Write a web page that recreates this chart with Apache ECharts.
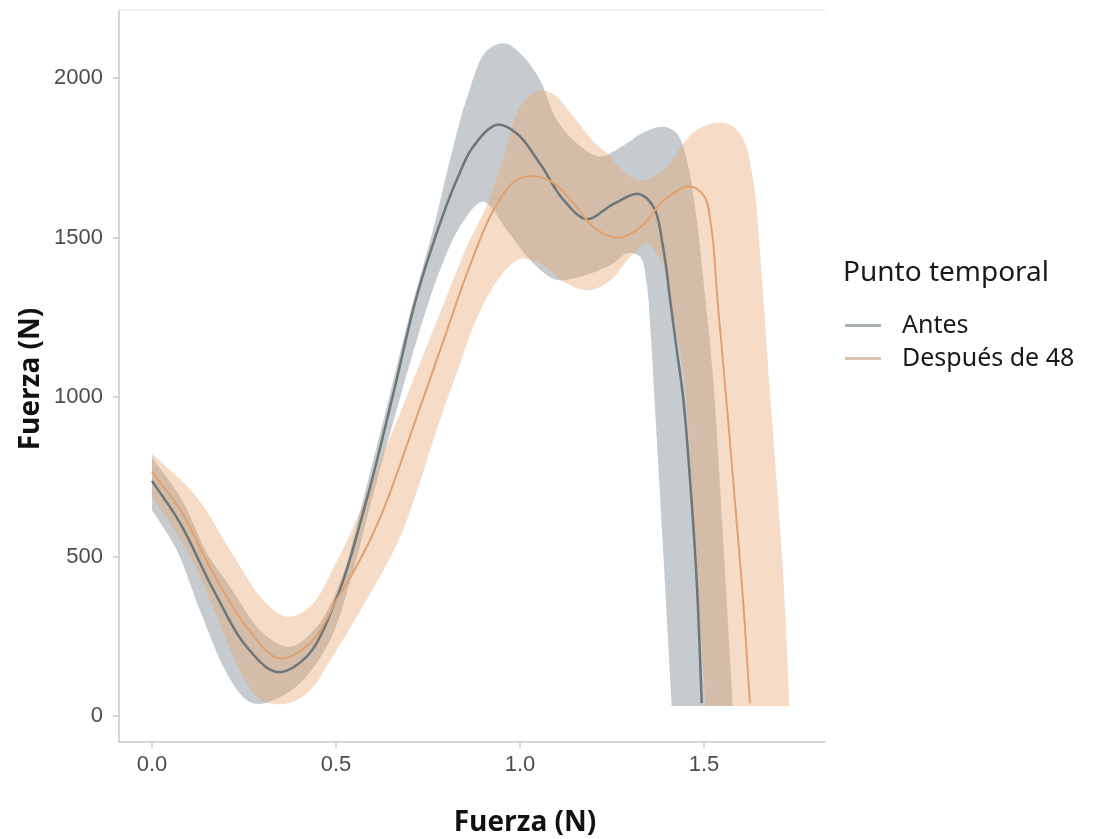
<!DOCTYPE html>
<html>
<head>
<meta charset="utf-8">
<script src="https://cdn.jsdelivr.net/npm/echarts@6/dist/echarts.min.js"></script>
<style>html,body{margin:0;padding:0;background:#fff}#c{width:1113px;height:839px}</style>
</head>
<body>
<div id="c"></div>
<script>
// ---- Data ----
const xTicks = [0.0, 0.5, 1.0, 1.5];
const yTicks = [0, 500, 1000, 1500, 2000];
const seriesNames = ['Antes', 'Después de 48'];

// Mean curve "Antes"
const antesX = [0.00, 0.076, 0.167, 0.257, 0.34, 0.42, 0.50, 0.583, 0.656, 0.719, 0.783, 0.828, 0.873, 0.937, 0.991, 1.054, 1.118, 1.181, 1.254, 1.322, 1.362, 1.39, 1.408, 1.426, 1.444, 1.462, 1.48, 1.494];
const antesY = [737, 605, 395, 217, 138, 186, 364, 677, 1012, 1314, 1545, 1680, 1785, 1853, 1826, 1732, 1618, 1558, 1605, 1636, 1597, 1461, 1304, 1147, 991, 740, 426, 40];
// Ribbon "Antes" upper / lower edges
const antesUpperX = [0.00, 0.08, 0.15, 0.212, 0.302, 0.375, 0.448, 0.52, 0.556, 0.629, 0.701, 0.765, 0.81, 0.855, 0.909, 0.96, 1.009, 1.054, 1.10, 1.16, 1.217, 1.29, 1.33, 1.39, 1.426, 1.453, 1.475, 1.50, 1.525, 1.55, 1.578];
const antesUpperY = [810, 680, 510, 405, 259, 217, 280, 447, 600, 928, 1262, 1530, 1745, 1935, 2085, 2108, 2067, 1994, 1868, 1790, 1754, 1795, 1826, 1847, 1826, 1743, 1600, 1350, 1053, 590, 31];
const antesLowerX = [0.00, 0.067, 0.13, 0.203, 0.257, 0.293, 0.35, 0.411, 0.484, 0.538, 0.60, 0.66, 0.72, 0.78, 0.84, 0.90, 0.964, 1.036, 1.10, 1.163, 1.217, 1.254, 1.29, 1.326, 1.344, 1.355, 1.365, 1.385, 1.412];
const antesLowerY = [646, 520, 332, 134, 50, 38, 60, 113, 238, 420, 690, 940, 1180, 1390, 1540, 1612, 1523, 1419, 1367, 1377, 1398, 1419, 1450, 1440, 1356, 1200, 1000, 600, 31];

// Mean curve "Después de 48"
const despuesX = [0.00, 0.08, 0.166, 0.257, 0.345, 0.43, 0.51, 0.57, 0.63, 0.72, 0.79, 0.86, 0.93, 0.99, 1.04, 1.09, 1.145, 1.208, 1.27, 1.33, 1.39, 1.46, 1.50, 1.52, 1.537, 1.56, 1.585, 1.605, 1.625];
const despuesY = [766, 640, 448, 280, 181, 229, 380, 500, 650, 940, 1170, 1400, 1590, 1680, 1692, 1672, 1607, 1525, 1500, 1535, 1615, 1660, 1630, 1530, 1300, 1000, 660, 380, 40];
// Ribbon "Después de 48" upper / lower edges
const despuesUpperX = [0.00, 0.121, 0.212, 0.302, 0.366, 0.43, 0.50, 0.55, 0.61, 0.674, 0.746, 0.80, 0.855, 0.909, 0.96, 1.00, 1.05, 1.09, 1.145, 1.20, 1.236, 1.30, 1.344, 1.399, 1.444, 1.48, 1.525, 1.571, 1.607, 1.635, 1.655, 1.675, 1.697, 1.716, 1.732];
const despuesUpperY = [823, 687, 520, 364, 311, 343, 480, 600, 771, 949, 1158, 1314, 1471, 1600, 1770, 1910, 1960, 1950, 1879, 1800, 1764, 1690, 1680, 1722, 1795, 1837, 1858, 1853, 1806, 1670, 1408, 1080, 740, 426, 31];
const despuesLowerX = [0.00, 0.10, 0.17, 0.24, 0.29, 0.33, 0.375, 0.43, 0.49, 0.583, 0.674, 0.73, 0.78, 0.83, 0.88, 0.946, 1.00, 1.054, 1.127, 1.19, 1.25, 1.30, 1.344, 1.39, 1.417, 1.447, 1.475, 1.505];
const despuesLowerY = [690, 510, 330, 140, 55, 38, 41, 81, 185, 364, 560, 740, 920, 1080, 1240, 1377, 1432, 1419, 1356, 1335, 1370, 1440, 1480, 1408, 1252, 1050, 530, 31];

// ---- Chart ----
const X_MIN = -0.0897, X_MAX = 1.8288, Y_MIN = -81.5, Y_MAX = 2213;
const AXIS_COLOR = '#c9c9c9';
const TICK_FONT = '"Liberation Sans", Arial, sans-serif';
const TEXT_FONT = '"Noto Sans", "Open Sans", sans-serif';
const TITLE_FONT = 'bold 28px "Open Sans", "Noto Sans", sans-serif';

// centripetal Catmull-Rom through pixel points (rendering only)
function spline(pts, steps) {
  const n = pts.length;
  if (n < 3) return pts.slice();
  const out = [];
  const d = (a, b) => Math.max(Math.pow(Math.hypot(b[0] - a[0], b[1] - a[1]), 0.5), 1e-4);
  for (let i = 0; i < n - 1; i++) {
    const p1 = pts[i], p2 = pts[i + 1];
    const p0 = i > 0 ? pts[i - 1] : [2 * p1[0] - p2[0], 2 * p1[1] - p2[1]];
    const p3 = i < n - 2 ? pts[i + 2] : [2 * p2[0] - p1[0], 2 * p2[1] - p1[1]];
    const t0 = 0, t1 = t0 + d(p0, p1), t2 = t1 + d(p1, p2), t3 = t2 + d(p2, p3);
    for (let s = 0; s < steps; s++) {
      const t = t1 + (t2 - t1) * s / steps;
      const L = (a, b, ta, tb) => [
        (tb - t) / (tb - ta) * a[0] + (t - ta) / (tb - ta) * b[0],
        (tb - t) / (tb - ta) * a[1] + (t - ta) / (tb - ta) * b[1]
      ];
      const A1 = L(p0, p1, t0, t1), A2 = L(p1, p2, t1, t2), A3 = L(p2, p3, t2, t3);
      const B1 = L(A1, A2, t0, t2), B2 = L(A2, A3, t1, t3);
      out.push(L(B1, B2, t1, t2));
    }
  }
  out.push(pts[n - 1]);
  return out;
}

function ribbon(name, ux, uy, lx, ly, fill) {
  return {
    id: name + '-ribbon',
    type: 'custom',
    silent: true,
    z: 1,
    data: [[ux[0], uy[0]]],
    renderItem: function (params, api) {
      const up = ux.map((x, i) => api.coord([x, uy[i]]));
      const lo = lx.map((x, i) => api.coord([x, ly[i]]));
      const pts = spline(up, 16).concat(spline(lo, 16).reverse());
      return { type: 'polygon', shape: { points: pts }, style: { fill: fill } };
    }
  };
}

function meanLine(name, xs, ys, color, width) {
  return {
    name: name,
    type: 'custom',
    z: 3,
    silent: true,
    itemStyle: { color: color },
    data: [[xs[0], ys[0]]],
    renderItem: function (params, api) {
      const pts = xs.map((x, i) => api.coord([x, ys[i]]));
      return { type: 'polyline', shape: { points: spline(pts, 16) },
        style: { stroke: color, lineWidth: width, fill: null, lineJoin: 'round' } };
    }
  };
}

const chart = echarts.init(document.getElementById('c'), null, { renderer: 'canvas' });
chart.setOption({
  animation: false,
  backgroundColor: '#ffffff',
  grid: { left: 119, right: 288, top: 10, bottom: 97, containLabel: false },
  xAxis: [{
    type: 'value', min: X_MIN, max: X_MAX,
    axisLine: { show: true, onZero: false, lineStyle: { color: AXIS_COLOR, width: 1.5 } },
    axisTick: { show: true, length: 6, customValues: xTicks, lineStyle: { color: AXIS_COLOR, width: 1.5 } },
    axisLabel: { customValues: xTicks, margin: 12, fontSize: 22, fontFamily: TICK_FONT, color: '#4d4d4d',
      formatter: v => Number(v).toFixed(1) },
    splitLine: { show: false }
  }, {
    type: 'value', position: 'top', min: X_MIN, max: X_MAX,
    axisLine: { show: true, onZero: false, lineStyle: { color: '#ededed', width: 1.5 } },
    axisTick: { show: false }, axisLabel: { show: false }, splitLine: { show: false }
  }],
  yAxis: {
    type: 'value', min: Y_MIN, max: Y_MAX,
    axisLine: { show: true, onZero: false, lineStyle: { color: AXIS_COLOR, width: 1.5 } },
    axisTick: { show: true, length: 6, customValues: yTicks, lineStyle: { color: AXIS_COLOR, width: 1.5 } },
    axisLabel: { customValues: yTicks, margin: 16, fontSize: 22, fontFamily: TICK_FONT, color: '#4d4d4d',
      formatter: v => String(Math.round(v)) },
    splitLine: { show: false }
  },
  legend: {
    orient: 'vertical', left: 845, top: 313, padding: 0,
    icon: 'rect', itemWidth: 36, itemHeight: 3, itemGap: 8,
    textStyle: { fontSize: 25, fontFamily: TEXT_FONT, color: '#1a1a1a', lineHeight: 24, padding: [0, 0, 0, 16] },
    data: [
      { name: seriesNames[0], itemStyle: { color: '#a9b1b4' } },
      { name: seriesNames[1], itemStyle: { color: '#dcc1ad' } }
    ],
    selectedMode: false
  },
  graphic: [
    { type: 'text', x: 525, y: 823, style: { text: 'Fuerza (N)', font: TITLE_FONT, fill: '#111', textAlign: 'center', textVerticalAlign: 'middle' } },
    { type: 'text', x: 31, y: 379, rotation: Math.PI / 2, style: { text: 'Fuerza (N)', font: TITLE_FONT, fill: '#111', textAlign: 'center', textVerticalAlign: 'middle' } },
    { type: 'text', x: 843, y: 273, style: { text: 'Punto temporal', font: 'normal 28px "Noto Sans", "Open Sans", sans-serif', fill: '#1a1a1a', textAlign: 'left', textVerticalAlign: 'middle' } }
  ],
  series: [
    ribbon('antes', antesUpperX, antesUpperY, antesLowerX, antesLowerY, 'rgba(110,125,135,0.4)'),
    ribbon('despues', despuesUpperX, despuesUpperY, despuesLowerX, despuesLowerY, 'rgba(232,168,112,0.4)'),
    meanLine(seriesNames[0], antesX, antesY, '#6d7678', 2.5),
    meanLine(seriesNames[1], despuesX, despuesY, '#e3a06f', 2)
  ]
});
</script>
</body>
</html>
